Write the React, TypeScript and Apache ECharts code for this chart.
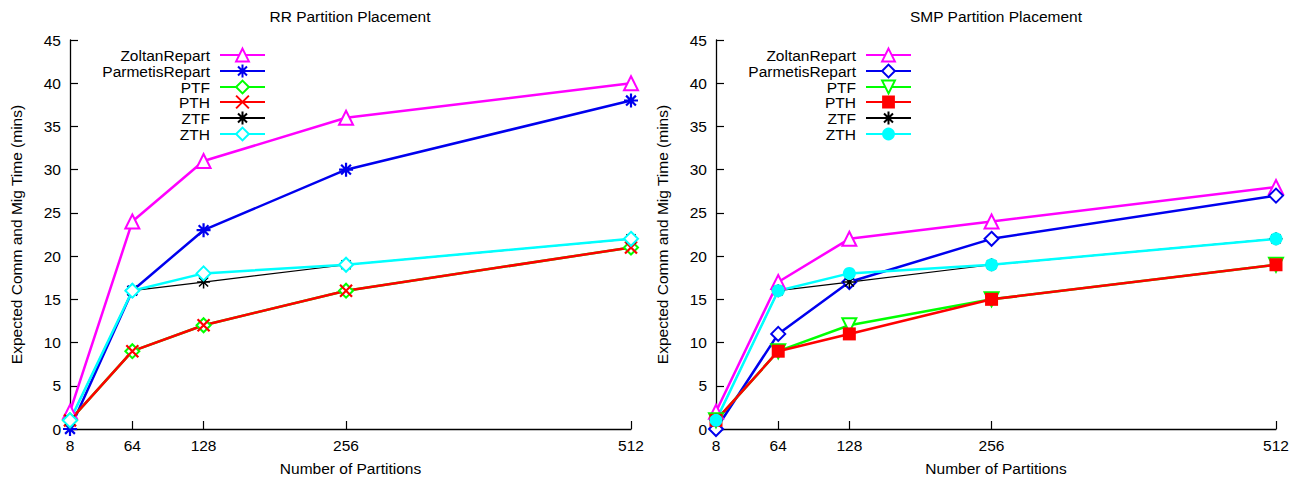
import React, { useEffect, useRef } from "react";
import * as echarts from "echarts";

const partitions = [8, 64, 128, 256, 512];
const yTicks = [0, 5, 10, 15, 20, 25, 30, 35, 40, 45];
const seriesNames = ["ZoltanRepart", "ParmetisRepart", "PTF", "PTH", "ZTF", "ZTH"];

// RR Partition Placement
const rrZoltanRepart = [2, 24, 31, 36, 40];
const rrParmetisRepart = [0, 16, 23, 30, 38];
const rrPTF = [1, 9, 12, 16, 21];
const rrPTH = [1, 9, 12, 16, 21];
const rrZTF = [1, 16, 17, 19, 22];
const rrZTH = [1, 16, 18, 19, 22];

// SMP Partition Placement
const smpZoltanRepart = [2, 17, 22, 24, 28];
const smpParmetisRepart = [0, 11, 17, 22, 27];
const smpPTF = [1, 9, 12, 15, 19];
const smpPTH = [1, 9, 11, 15, 19];
const smpZTF = [1, 16, 17, 19, 22];
const smpZTH = [1, 16, 18, 19, 22];

const FONT = "Liberation Sans, Arial, Helvetica, sans-serif";
const ASTERISK = "path://M5,0L5,10M0,5L10,5M1.5,1.5L8.5,8.5M1.5,8.5L8.5,1.5";
const CROSS = "path://M0,0L10,10M0,10L10,0";

type Sty = { color: string; symbol: string; size: number; lw: number; kind: "empty" | "stroke" | "fill"; rotate?: number };

const rrStyles: Sty[] = [
  { color: "#ff00ff", symbol: "emptyTriangle", size: 14, lw: 2.5, kind: "empty" },
  { color: "#0000ee", symbol: ASTERISK, size: 14, lw: 2.5, kind: "stroke" },
  { color: "#00ff00", symbol: "emptyDiamond", size: 14, lw: 2.5, kind: "empty" },
  { color: "#ff0000", symbol: CROSS, size: 12, lw: 2.5, kind: "stroke" },
  { color: "#000000", symbol: ASTERISK, size: 13, lw: 1.2, kind: "stroke" },
  { color: "#00ffff", symbol: "emptyDiamond", size: 14, lw: 2.5, kind: "empty" },
];
const smpStyles: Sty[] = [
  { color: "#ff00ff", symbol: "emptyTriangle", size: 14, lw: 2.5, kind: "empty" },
  { color: "#0000ee", symbol: "emptyDiamond", size: 14, lw: 2.5, kind: "empty" },
  { color: "#00ff00", symbol: "emptyTriangle", size: 14, lw: 2.5, kind: "empty", rotate: 180 },
  { color: "#ff0000", symbol: "rect", size: 13, lw: 2.5, kind: "fill" },
  { color: "#000000", symbol: ASTERISK, size: 13, lw: 1.2, kind: "stroke" },
  { color: "#00ffff", symbol: "circle", size: 13, lw: 2.5, kind: "fill" },
];

function mkSeries(prefix: string, idx: number, values: number[][], styles: Sty[]) {
  return values.map((vals, i) => {
    const s = styles[i];
    const itemStyle: any = { color: s.color };
    if (s.kind === "stroke") {
      itemStyle.borderColor = s.color;
      itemStyle.borderWidth = s.lw < 2 ? 1.5 : 2.2;
    } else if (s.kind === "empty") {
      itemStyle.borderWidth = 2;
    }
    return {
      type: "line",
      name: prefix + seriesNames[i],
      xAxisIndex: idx,
      yAxisIndex: idx,
      data: partitions.map((p, j) => [p, vals[j]]),
      symbol: s.symbol,
      symbolSize: s.size,
      symbolRotate: s.rotate || 0,
      showAllSymbol: true,
      clip: false,
      lineStyle: { color: s.color, width: s.lw },
      itemStyle,
      emphasis: { disabled: true },
    };
  });
}

function mkLegends(prefix: string, iconRight: number) {
  const tops = [47, 63, 79, 94, 110, 126];
  return seriesNames.map((n, i) => ({
    data: [prefix + n],
    formatter: () => n,
    orient: "horizontal",
    align: "right",
    right: 1292 - iconRight,
    top: tops[i],
    itemWidth: 45,
    itemHeight: 16,
    padding: 0,
    selectedMode: false,
    textStyle: { fontSize: 15.5, fontFamily: FONT, color: "#000", padding: [0, 5, 0, 0] },
  }));
}

function mkXAxis(idx: number) {
  return {
    type: "value",
    gridIndex: idx,
    min: 8,
    max: 512,
    name: "Number of Partitions",
    nameLocation: "middle",
    nameGap: 31,
    nameTextStyle: { fontSize: 15.5, fontFamily: FONT, color: "#000" },
    axisLine: { show: true, lineStyle: { color: "#000", width: 1.3 } },
    axisTick: { show: true, inside: true, length: 8, customValues: partitions, lineStyle: { color: "#000", width: 1.2 } },
    axisLabel: { customValues: partitions, fontSize: 15.5, fontFamily: FONT, color: "#000", margin: 8 },
    splitLine: { show: false },
  };
}

function mkYAxis(idx: number) {
  return {
    type: "value",
    gridIndex: idx,
    min: 0,
    max: 45,
    interval: 5,
    name: "Expected Comm and Mig Time (mins)",
    nameLocation: "middle",
    nameGap: 46,
    nameTextStyle: { fontSize: 15.5, fontFamily: FONT, color: "#000" },
    axisLine: { show: true, lineStyle: { color: "#000", width: 1.3 } },
    axisTick: { show: true, inside: true, length: 8, customValues: yTicks, lineStyle: { color: "#000", width: 1.2 } },
    axisLabel: { fontSize: 15.5, fontFamily: FONT, color: "#000", margin: 9 },
    splitLine: { show: false },
  };
}

export default function App() {
  const ref = useRef<HTMLDivElement>(null);
  useEffect(() => {
    if (!ref.current) return;
    const chart = echarts.init(ref.current, null, { renderer: "svg" });
    const option: any = {
      animation: false,
      backgroundColor: "#fff",
      textStyle: { fontFamily: FONT },
      grid: [
        { left: 70, top: 40, width: 561, height: 394 },
        { left: 716, top: 40, width: 560, height: 394 },
      ],
      xAxis: [mkXAxis(0), mkXAxis(1)],
      yAxis: [mkYAxis(0), mkYAxis(1)],
      legend: [...mkLegends("RR ", 266), ...mkLegends("SMP ", 912)],
      graphic: [
        {
          type: "text",
          x: 350,
          y: 16,
          style: { text: "RR Partition Placement", font: `15.5px ${FONT}`, fill: "#000", textAlign: "center", textVerticalAlign: "middle" },
        },
        {
          type: "text",
          x: 996,
          y: 16,
          style: { text: "SMP Partition Placement", font: `15.5px ${FONT}`, fill: "#000", textAlign: "center", textVerticalAlign: "middle" },
        },
      ],
      series: [
        ...mkSeries("RR ", 0, [rrZoltanRepart, rrParmetisRepart, rrPTF, rrPTH, rrZTF, rrZTH], rrStyles),
        ...mkSeries("SMP ", 1, [smpZoltanRepart, smpParmetisRepart, smpPTF, smpPTH, smpZTF, smpZTH], smpStyles),
      ],
    };
    chart.setOption(option);
    return () => chart.dispose();
  }, []);
  return <div ref={ref} style={{ position: "fixed", left: 0, top: 0, width: 1292, height: 481 }} />;
}
